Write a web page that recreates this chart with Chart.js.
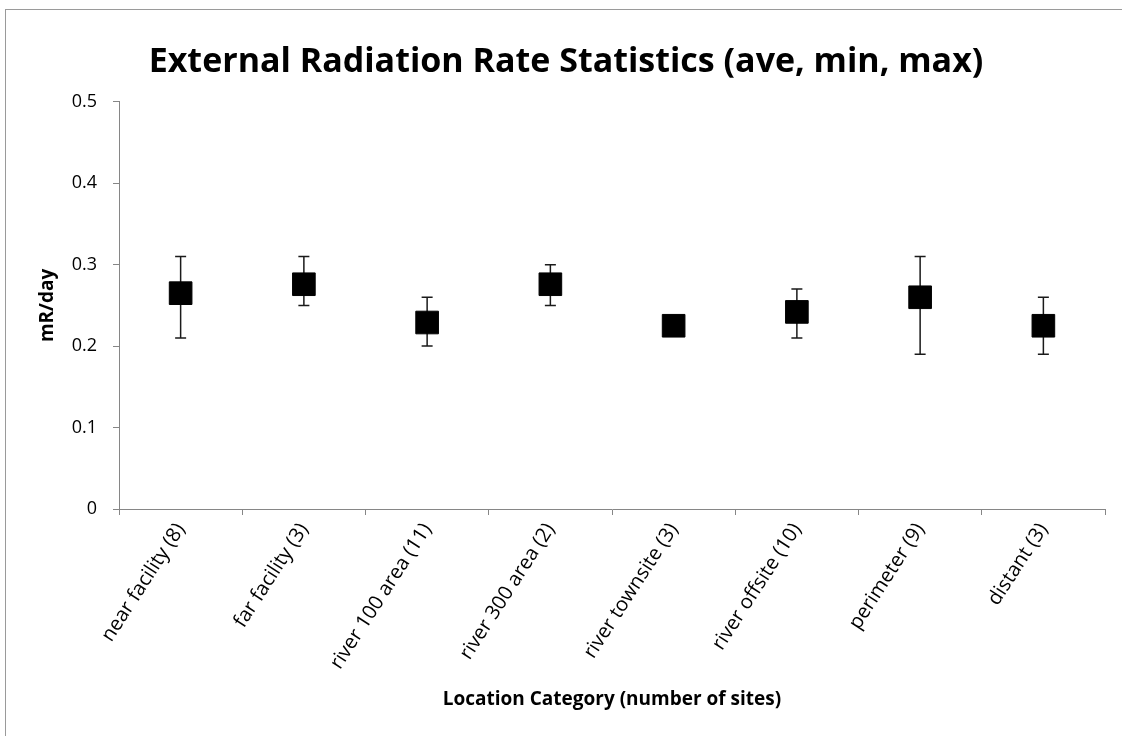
<!DOCTYPE html>
<html>
<head>
<meta charset="utf-8">
<script src="https://cdn.jsdelivr.net/npm/chart.js@4.4.1/dist/chart.umd.min.js"></script>
<style>
  html, body { margin: 0; padding: 0; background: #fff; }
  #wrap { width: 1122px; height: 736px; }
</style>
</head>
<body>
<div id="wrap"><canvas id="chart" width="1122" height="736"></canvas></div>
<script>
const categories = ['near facility (8)', 'far facility (3)', 'river 100 area (11)', 'river 300 area (2)',
  'river townsite (3)', 'river offsite (10)', 'perimeter (9)', 'distant (3)'];
const aveValues = [0.265, 0.276, 0.229, 0.276, 0.225, 0.242, 0.26, 0.225];
const minValues = [0.21, 0.25, 0.20, 0.25, 0.22, 0.21, 0.19, 0.19];
const maxValues = [0.31, 0.31, 0.26, 0.30, 0.23, 0.27, 0.31, 0.26];
const yTicks = [0, 0.1, 0.2, 0.3, 0.4, 0.5];

const FONT = "'Open Sans', sans-serif";

// min/max whiskers, drawn under the square markers
const errorBars = {
  id: 'errorBars',
  beforeDatasetsDraw(chart) {
    const ctx = chart.ctx;
    const x = chart.scales.x, y = chart.scales.y;
    ctx.save();
    ctx.strokeStyle = '#1a1a1a';
    ctx.lineWidth = 1.5;
    categories.forEach((c, i) => {
      const px = x.getPixelForValue(i);
      const top = y.getPixelForValue(maxValues[i]);
      const bot = y.getPixelForValue(minValues[i]);
      ctx.beginPath();
      ctx.moveTo(px, top); ctx.lineTo(px, bot);
      ctx.moveTo(px - 5.5, top); ctx.lineTo(px + 5.5, top);
      ctx.moveTo(px - 5.5, bot); ctx.lineTo(px + 5.5, bot);
      ctx.stroke();
    });
    ctx.restore();
  }
};

const frame = {
  id: 'frame',
  beforeDraw(chart) {
    const ctx = chart.ctx;
    ctx.save();
    ctx.fillStyle = '#fff';
    ctx.fillRect(0, 0, chart.width, chart.height);
    ctx.strokeStyle = '#9a9a9a';
    ctx.lineWidth = 1;
    ctx.strokeRect(5.5, 9.5, chart.width, chart.height);
    ctx.restore();
  }
};

new Chart(document.getElementById('chart'), {
  type: 'line',
  data: {
    labels: categories,
    datasets: [{
      label: 'ave',
      data: aveValues,
      showLine: false,
      pointStyle: 'rect',
      pointRadius: 16,
      pointHoverRadius: 16,
      pointBackgroundColor: '#000',
      pointBorderColor: '#000',
      pointBorderWidth: 1
    }]
  },
  options: {
    responsive: false,
    animation: false,
    events: [],
    layout: { padding: { left: 25, right: 15, top: 9, bottom: 0 } },
    plugins: {
      legend: { display: false },
      tooltip: { enabled: false },
      title: {
        display: true,
        text: 'External Radiation Rate Statistics (ave, min, max)',
        color: '#000',
        font: { family: FONT, size: 34, weight: 'bold' },
        padding: { top: 33, bottom: 19 }
      }
    },
    scales: {
      x: {
        type: 'category',
        offset: true,
        afterFit(s) { s.height = 227; },
        grid: { offset: true, drawOnChartArea: false, drawTicks: true, tickLength: 6, color: '#868686' },
        border: { color: '#868686', width: 1 },
        ticks: {
          autoSkip: false, minRotation: 57, maxRotation: 57, padding: 4,
          color: '#000', font: { family: FONT, size: 20 }
        },
        title: {
          display: true, text: 'Location Category (number of sites)', color: '#000',
          font: { family: FONT, size: 19, weight: 'bold' }, padding: { top: 0, bottom: 25 }
        }
      },
      y: {
        min: 0, max: 0.5,
        afterFit(s) { s.width = 94; },
        afterBuildTicks(s) { s.ticks = yTicks.map(v => ({ value: v })); },
        grid: { drawOnChartArea: false, drawTicks: true, tickLength: 6, color: '#868686' },
        border: { color: '#868686', width: 1 },
        ticks: {
          padding: 16, color: '#000', font: { family: FONT, size: 18 },
          callback: v => v === 0 ? '0' : v.toFixed(1)
        },
        title: {
          display: true, text: 'mR/day', color: '#000',
          font: { family: FONT, size: 19, weight: 'bold' }, padding: { top: 11, bottom: 0 }
        }
      }
    }
  },
  plugins: [frame, errorBars]
});
</script>
</body>
</html>
